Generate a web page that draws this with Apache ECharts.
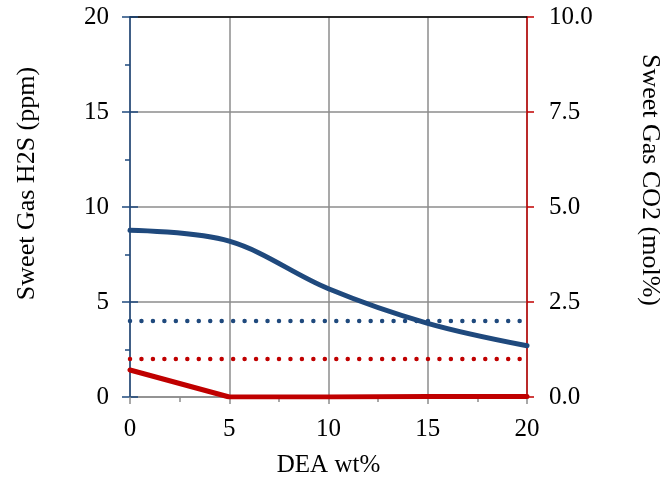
<!DOCTYPE html>
<html>
<head>
<meta charset="utf-8">
<script src="https://cdn.jsdelivr.net/npm/echarts@6/dist/echarts.min.js"></script>
<style>
  html, body { margin: 0; padding: 0; background: #fff; }
  #chart { width: 660px; height: 481px; }
</style>
</head>
<body>
<div id="chart"></div>
<script>
// DEA concentration (wt%) on the x axis
const deaWt = [0, 5, 10, 15, 20];
// Sweet gas H2S (ppm), left axis
const h2sPpm = [8.78, 8.2, 5.7, 3.88, 2.7];
// Sweet gas CO2 (mol%), right axis
const co2Mol = [0.71, 0, 0, 0.01, 0.01];
// Specification limits drawn as dotted lines
const h2sSpec = 4;
const co2Spec = 1.0;
const xRange = [0, 20];

const BLUE = '#1F497D';
const RED = '#C00000';
const GRID = '#8c8c8c';
const FONT = 'Liberation Serif';

const pairs = (xs, ys) => xs.map((x, i) => [x, ys[i]]);

const chart = echarts.init(document.getElementById('chart'));
chart.setOption({
  animation: false,
  textStyle: { fontFamily: FONT },
  grid: { left: 130, right: 133, top: 17, bottom: 84, outerBoundsMode: 'none' },
  xAxis: [{
    type: 'value', min: 0, max: 20, interval: 5,
    name: 'DEA wt%', nameLocation: 'middle', nameGap: 56,
    nameTextStyle: { fontFamily: FONT, fontSize: 25, color: '#000' },
    axisLine: { lineStyle: { color: GRID, width: 1.5 } },
    axisTick: { show: true, length: 7, lineStyle: { color: GRID, width: 1.5 } },
    minorTick: { show: true, splitNumber: 2, length: 5, lineStyle: { color: GRID, width: 1.5 } },
    axisLabel: { fontFamily: FONT, fontSize: 25, color: '#000', margin: 20 },
    splitLine: { show: true, lineStyle: { color: GRID, width: 1.5 } }
  }, {
    type: 'value', min: 0, max: 20, position: 'top',
    axisLine: { show: true, onZero: false, lineStyle: { color: '#000', width: 1.5 } },
    axisTick: { show: false }, axisLabel: { show: false }, splitLine: { show: false }
  }],
  yAxis: [{
    type: 'value', min: 0, max: 20, interval: 5, position: 'left',
    name: 'Sweet Gas H2S (ppm)', nameLocation: 'middle', nameGap: 90,
    nameTextStyle: { fontFamily: FONT, fontSize: 26, color: '#000', padding: [0, 0, 0, 47] },
    axisLine: { show: true, onZero: false, lineStyle: { color: BLUE, width: 1.5 } },
    axisTick: { show: true, length: 8, lineStyle: { color: BLUE, width: 1.5 } },
    minorTick: { show: true, splitNumber: 2, length: 5, lineStyle: { color: BLUE, width: 1.5 } },
    axisLabel: { fontFamily: FONT, fontSize: 25, color: '#000', margin: 21 },
    splitLine: { show: true, lineStyle: { color: GRID, width: 1.5 } }
  }, {
    type: 'value', min: 0, max: 10, interval: 2.5, position: 'right',
    name: 'Sweet Gas CO2 (mol%)', nameLocation: 'middle', nameGap: 110, nameRotate: -90,
    nameTextStyle: { fontFamily: FONT, fontSize: 26, color: '#000', padding: [0, 54, 0, 0] },
    axisLine: { show: true, onZero: false, lineStyle: { color: RED, width: 1.5 } },
    axisTick: { show: true, length: 7, lineStyle: { color: RED, width: 1.5 } },
    axisLabel: { fontFamily: FONT, fontSize: 25, color: '#000', margin: 22,
      formatter: v => v.toFixed(1) },
    splitLine: { show: false }
  }, {
    // inner half of the crossing major ticks on the left axis
    type: 'value', min: 0, max: 20, interval: 5, position: 'left',
    axisLine: { show: false, onZero: false },
    axisTick: { show: true, inside: true, length: 8, lineStyle: { color: BLUE, width: 1.5 } },
    axisLabel: { show: false }, splitLine: { show: false }
  }],
  series: [{
    type: 'line', yAxisIndex: 0, data: pairs(deaWt, h2sPpm),
    smooth: 0.35, symbol: 'none', z: 3,
    lineStyle: { color: BLUE, width: 5, cap: 'round' }
  }, {
    type: 'line', yAxisIndex: 1, data: pairs(deaWt, co2Mol),
    symbol: 'none', z: 3,
    lineStyle: { color: RED, width: 5, cap: 'round' }
  }, {
    type: 'line', yAxisIndex: 0, data: pairs(xRange, [h2sSpec, h2sSpec]),
    symbol: 'none',
    lineStyle: { color: BLUE, width: 4.5, type: [0.01, 11.45], cap: 'round' }
  }, {
    type: 'line', yAxisIndex: 1, data: pairs(xRange, [co2Spec, co2Spec]),
    symbol: 'none',
    lineStyle: { color: RED, width: 4.5, type: [0.01, 11.45], cap: 'round' }
  }]
});
</script>
</body>
</html>
